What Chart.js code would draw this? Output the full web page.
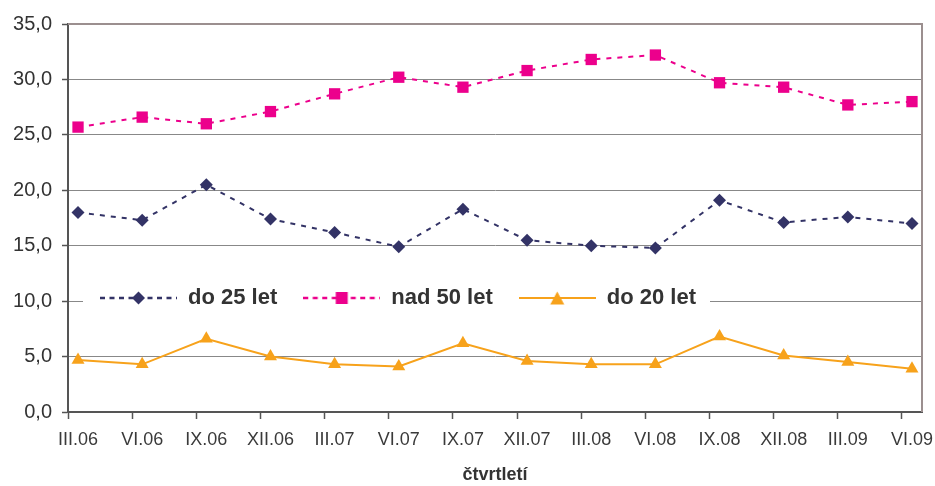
<!DOCTYPE html>
<html><head><meta charset="utf-8">
<script src="https://cdn.jsdelivr.net/npm/chart.js@4/dist/chart.umd.min.js"></script>
<style>html,body{margin:0;padding:0;background:#fff}#wrap{width:935px;height:486px}</style>
</head><body><div id="wrap"><canvas id="c" width="935" height="486"></canvas></div>
<script>
// ---- data ----
const categories = ["III.06","VI.06","IX.06","XII.06","III.07","VI.07","IX.07","XII.07","III.08","VI.08","IX.08","XII.08","III.09","VI.09"];
const do25 = [18.0,17.3,20.5,17.4,16.2,14.9,18.3,15.5,15.0,14.8,19.1,17.1,17.6,17.0];
const nad50 = [25.7,26.6,26.0,27.1,28.7,30.2,29.3,30.8,31.8,32.2,29.7,29.3,27.7,28.0];
const do20 = [4.7,4.3,6.6,5.0,4.3,4.1,6.2,4.6,4.3,4.3,6.8,5.1,4.5,3.9];
const seriesNames = ["do 25 let","nad 50 let","do 20 let"];
const yTicks = [0,5,10,15,20,25,30,35];
const xTitle = "čtvrtletí";

// ---- styles ----
const FONT = "'Liberation Sans', Arial, Helvetica, sans-serif";
const NAVY = "#333366", PINK = "#EC008C", ORANGE = "#F7A21B";
const EDGE = 10/64; // category start offset (fraction of a category)

Chart.defaults.font.family = FONT;

function legendIcon(color, dash, lw, style) {
  const w = 77, h = 16;
  const c = document.createElement('canvas'); c.width = w; c.height = h;
  const g = c.getContext('2d');
  const cx = w/2, cy = h/2;
  g.strokeStyle = color; g.lineWidth = lw; g.setLineDash(dash);
  g.beginPath(); g.moveTo(0, cy); g.lineTo(w, cy); g.stroke();
  g.setLineDash([]); g.fillStyle = color;
  g.beginPath();
  if (style === 'rectRot') { g.moveTo(cx, cy-6.5); g.lineTo(cx+6.5, cy); g.lineTo(cx, cy+6.5); g.lineTo(cx-6.5, cy); }
  else if (style === 'rect') { g.rect(cx-6, cy-6, 12, 12); }
  else { g.moveTo(cx, cy-6.5); g.lineTo(cx+7, cy+6.5); g.lineTo(cx-7, cy+6.5); }
  g.closePath(); g.fill();
  return c;
}
const icons = [
  legendIcon(NAVY, [5,4.5], 2.5, 'rectRot'),
  legendIcon(PINK, [5,4.5], 2.5, 'rect'),
  legendIcon(ORANGE, [], 2, 'triangle')
];

const toPts = arr => arr.map((v,i) => ({x:i, y:v}));

const frame = {
  id: 'frame',
  beforeDatasetsDraw(chart) {
    const {ctx, chartArea:a} = chart;
    ctx.save(); ctx.strokeStyle = '#9b8f8f'; ctx.lineWidth = 2;
    ctx.beginPath(); ctx.moveTo(a.left, a.top); ctx.lineTo(a.right, a.top); ctx.lineTo(a.right, a.bottom); ctx.stroke();
    ctx.restore();
  }
};

const LEG_FS = 22, LEG_PAD = 26, LEG_Y = 274;
const legendPlace = {
  id: 'legendPlace',
  beforeLayout(chart) {
    const lg = chart.legend;
    if (lg && !lg._patched) {
      lg.isHorizontal = () => true;
      const orig = lg.draw;
      lg.draw = function(...args) {
        const c = this.ctx, ar = chart.chartArea, y0 = ar.top + LEG_Y;
        c.save(); c.fillStyle = '#fff'; c.fillRect(ar.left + 15, y0 - 13, 627, 26); c.restore();
        return orig.apply(this, args);
      };
      lg._patched = true;
    }
  },
  afterLayout(chart) {
    const lg = chart.legend, a = chart.chartArea;
    const cy = a.top + LEG_Y;
    lg.left = a.left + 6; lg.right = a.right;
    lg.top = cy - LEG_PAD - LEG_FS/2; lg.bottom = cy + LEG_PAD + LEG_FS/2;
    lg.width = lg.right - lg.left; lg.height = lg.bottom - lg.top;
  }
};

new Chart(document.getElementById('c'), {
  type: 'line',
  data: {
    datasets: [
      {label: seriesNames[0], data: toPts(do25), borderColor: NAVY, backgroundColor: NAVY, borderWidth: 2, borderDash: [5,6],
       pointStyle: 'rectRot', pointRadius: 6.5, pointBorderWidth: 0, pointBackgroundColor: NAVY},
      {label: seriesNames[1], data: toPts(nad50), borderColor: PINK, backgroundColor: PINK, borderWidth: 2, borderDash: [5,6],
       pointStyle: 'rect', pointRadius: 8, pointBorderWidth: 0, pointBackgroundColor: PINK},
      {label: seriesNames[2], data: toPts(do20), borderColor: ORANGE, backgroundColor: ORANGE, borderWidth: 2,
       pointStyle: 'triangle', pointRadius: 7.5, pointBorderWidth: 0, pointBackgroundColor: ORANGE}
    ]
  },
  plugins: [frame, legendPlace],
  options: {
    responsive: false, animation: false, devicePixelRatio: 1,
    layout: {padding: {top: 24, right: 13, left: 0, bottom: 0}},
    plugins: {
      tooltip: {enabled: false},
      legend: {
        position: 'chartArea', align: 'start',
        labels: {
          usePointStyle: true, pointStyleWidth: 77, padding: LEG_PAD, color: '#333',
          font: {size: LEG_FS, weight: 'bold', family: FONT},
          generateLabels: chart => Chart.defaults.plugins.legend.labels.generateLabels(chart)
            .map((l, i) => Object.assign(l, {pointStyle: icons[i], text: seriesNames[i]}))
        }
      }
    },
    scales: {
      x: {
        type: 'linear', min: -EDGE, max: categories.length - 1 + EDGE,
        afterBuildTicks: s => { s.ticks = categories.map((c, i) => ({value: i - EDGE})); },
        afterFit: s => { s.height = 74; },
        ticks: {callback: (v, i) => categories[i], labelOffset: 10, padding: 10, autoSkip: false, maxRotation: 0,
                font: {size: 18}, color: '#3a3a3a'},
        grid: {drawOnChartArea: false, drawTicks: true, tickLength: 7, tickColor: '#555', tickWidth: 1.5},
        border: {color: '#555', width: 2},
        title: {display: true, text: xTitle, color: '#333', font: {size: 18, weight: 'bold'}, padding: {top: 0, bottom: 0}}
      },
      y: {
        min: 0, max: 35,
        afterBuildTicks: s => { s.ticks = yTicks.map(v => ({value: v})); },
        afterFit: s => { s.width = 68; },
        ticks: {callback: v => v.toFixed(1).replace('.', ','), padding: 10, font: {size: 20}, color: '#333'},
        grid: {color: '#888', lineWidth: 1, tickLength: 6, tickColor: '#555', tickWidth: 1.5},
        border: {color: '#555', width: 2}
      }
    }
  }
});
</script></body></html>
